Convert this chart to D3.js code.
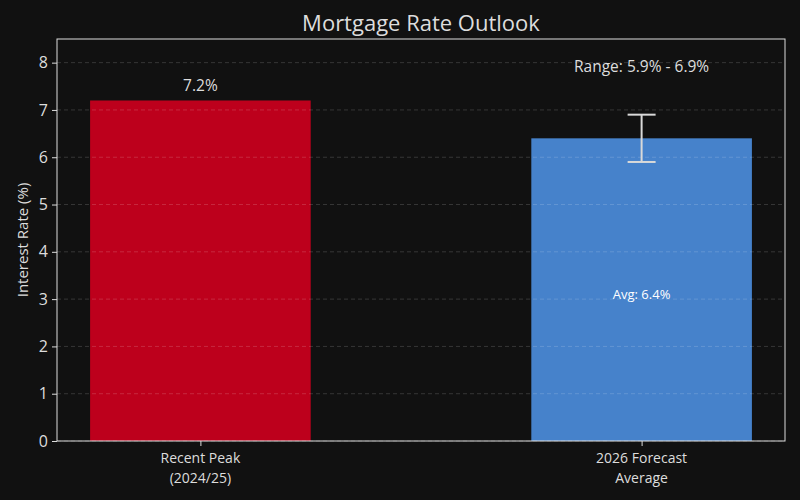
<!DOCTYPE html>
<html>
<head>
<meta charset="utf-8">
<script src="https://cdn.jsdelivr.net/npm/d3@7"></script>
<style>
  body { margin: 0; background: #111111; }
  text { font-family: "Open Sans", sans-serif; }
</style>
</head>
<body>
<div id="canvas"></div>
<script>
const categories = [["Recent Peak", "(2024/25)"], ["2026 Forecast", "Average"]];
const rates = [7.2, 6.4];
const barColors = ["#bd001c", "#4682cb"];
const forecastLow = 5.9;
const forecastHigh = 6.9;
const yTicks = [0, 1, 2, 3, 4, 5, 6, 7, 8];

const width = 800;
const height = 500;
const margin = {top: 39, left: 57, bottom: 59, right: 15};
const iwidth = width - margin.left - margin.right;
const iheight = height - margin.top - margin.bottom;

const svg = d3.select("#canvas").append("svg")
    .attr("width", width)
    .attr("height", height);

svg.append("rect").attr("width", width).attr("height", height).attr("fill", "#111111");

const g = svg.append("g").attr("transform", `translate(${margin.left}, ${margin.top})`);

// positions 0 and 1, bar width 0.5, 5% padding
const x = d3.scaleLinear().domain([-0.325, 1.325]).range([0, iwidth]);
const y = d3.scaleLinear().domain([0, 8.5]).range([iheight, 0]);

g.selectAll("rect.bar").data(rates).enter().append("rect")
    .attr("class", "bar")
    .attr("x", (d, i) => x(i - 0.25))
    .attr("y", d => y(d))
    .attr("width", x(0.5) - x(0))
    .attr("height", d => y(0) - y(d))
    .attr("fill", (d, i) => barColors[i]);

// grid
g.selectAll("line.grid").data(yTicks).enter().append("line")
    .attr("x1", 0).attr("x2", iwidth)
    .attr("y1", d => y(d)).attr("y2", d => y(d))
    .attr("stroke", "#ffffff").attr("stroke-opacity", 0.2)
    .attr("stroke-dasharray", "4,3").attr("stroke-width", 0.8);

// error bar
const ex = x(1);
const cap = 14;
g.append("line").attr("x1", ex).attr("x2", ex)
    .attr("y1", y(forecastLow)).attr("y2", y(forecastHigh))
    .attr("stroke", "#d9d9d9").attr("stroke-width", 2);
[forecastLow, forecastHigh].forEach(v => {
    g.append("line").attr("x1", ex - cap).attr("x2", ex + cap)
        .attr("y1", y(v)).attr("y2", y(v))
        .attr("stroke", "#d9d9d9").attr("stroke-width", 2);
});

// axes
const yAxis = g.append("g").call(d3.axisLeft(y).tickValues(yTicks).tickSize(5).tickPadding(4));
const xAxis = g.append("g").attr("transform", `translate(0, ${iheight})`)
    .call(d3.axisBottom(x).tickValues([0, 1]).tickSize(5).tickFormat(""));
[yAxis, xAxis].forEach(a => {
    a.select(".domain").remove();
    a.selectAll("line").attr("stroke", "#dddddd");
    a.selectAll("text").attr("fill", "#dddddd").style("font-size", "16px");
});

// category labels, one text per line
categories.forEach((lines, i) => {
    lines.forEach((line, j) => {
        g.append("text")
            .attr("text-anchor", "middle")
            .attr("fill", "#dddddd")
            .style("font-size", "14px")
            .attr("x", x(i))
            .attr("y", iheight + 22 + j * 19.5)
            .text(line);
    });
});

// frame
g.append("rect").attr("width", iwidth).attr("height", iheight)
    .attr("fill", "none").attr("stroke", "#dddddd").attr("stroke-width", 1);

// value labels
g.append("text")
    .attr("text-anchor", "middle").attr("fill", "#dddddd").style("font-size", "15.5px")
    .attr("x", x(0)).attr("y", y(rates[0]) - 9)
    .text(rates[0] + "%");

g.append("text")
    .attr("text-anchor", "middle").attr("fill", "#dddddd").style("font-size", "15.5px")
    .attr("x", x(1)).attr("y", y(forecastHigh + 1.0) + 5)
    .text(`Range: ${forecastLow}% - ${forecastHigh}%`);

g.append("text")
    .attr("text-anchor", "middle").attr("fill", "#ffffff").style("font-size", "13px")
    .attr("x", x(1)).attr("y", y(rates[1] / 2) + 9)
    .text(`Avg: ${rates[1]}%`);

// title
svg.append("text")
    .attr("text-anchor", "middle").attr("fill", "#dddddd").style("font-size", "22px")
    .attr("x", margin.left + iwidth / 2).attr("y", 31)
    .text("Mortgage Rate Outlook");

// y label
svg.append("text")
    .attr("text-anchor", "middle").attr("fill", "#dddddd").style("font-size", "15px")
    .attr("transform", `translate(28, ${margin.top + iheight / 2}) rotate(-90)`)
    .text("Interest Rate (%)");
</script>
</body>
</html>
